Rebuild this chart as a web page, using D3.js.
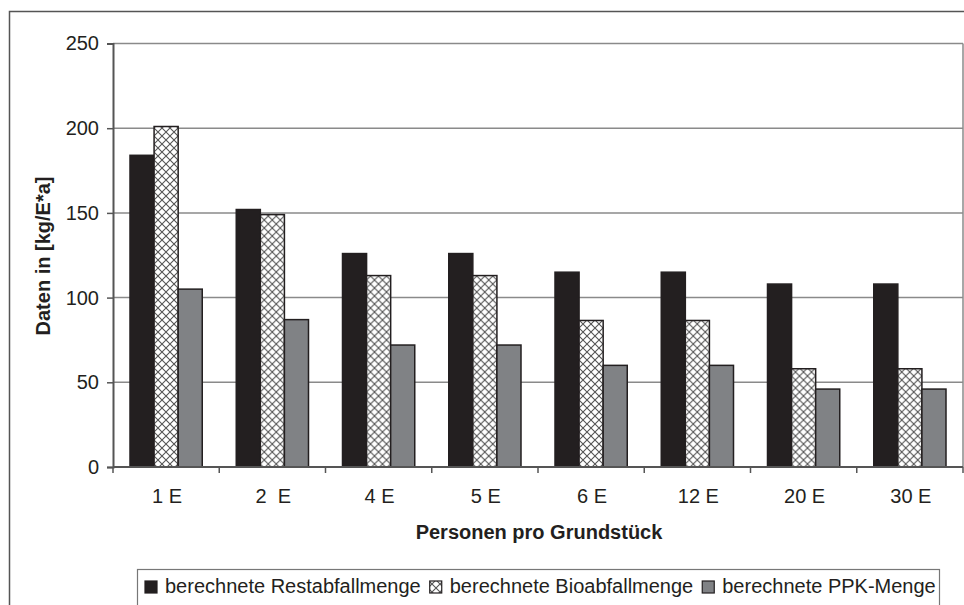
<!DOCTYPE html>
<html>
<head>
<meta charset="utf-8">
<script src="https://cdn.jsdelivr.net/npm/d3@7"></script>
<style>
  body { margin: 0; background: #fff; }
  text { font-family: "Liberation Sans", Arial, sans-serif; fill: #231f20; }
</style>
</head>
<body>
<script>
// Data
const categories = ["1 E", "2  E", "4 E", "5 E", "6 E", "12 E", "20 E", "30 E"];
const seriesNames = ["berechnete Restabfallmenge", "berechnete Bioabfallmenge", "berechnete PPK-Menge"];
const restabfall = [184, 152, 126, 126, 115, 115, 108, 108];
const bioabfall  = [201, 149, 113, 113, 86.5, 86.5, 58, 58];
const ppk        = [105, 87, 72, 72, 60, 60, 46, 46];
const yTicks = [0, 50, 100, 150, 200, 250];

const width = 964, height = 605;
const plotLeft = 113, plotRight = 963, plotTop = 43.5, plotBottom = 467;
const fontSize = "20px";

const svg = d3.select("body").append("svg")
    .attr("width", width)
    .attr("height", height);

// hatch pattern for the Bioabfall bars
const defs = svg.append("defs");
const pat = defs.append("pattern")
    .attr("id", "hatch")
    .attr("patternUnits", "userSpaceOnUse")
    .attr("width", 8)
    .attr("height", 8);
pat.append("rect").attr("width", 8).attr("height", 8).attr("fill", "#fff");
pat.append("path")
    .attr("d", "M0,0 L8,8 M8,0 L0,8")
    .attr("stroke", "#555")
    .attr("stroke-width", 1.1);

const fills = ["#231f20", "url(#hatch)", "#808285"];
const values = [restabfall, bioabfall, ppk];

// outer frame (left + top only visible)
svg.append("path")
    .attr("d", `M9.5,${height} L9.5,11.5 L${width},11.5`)
    .attr("fill", "none")
    .attr("stroke", "#555")
    .attr("stroke-width", 1.5);

const x0 = d3.scaleBand()
    .domain(categories)
    .range([plotLeft, plotRight])
    .paddingInner(0.32)
    .paddingOuter(0.16);

const x1 = d3.scaleBand()
    .domain(d3.range(seriesNames.length))
    .range([0, x0.bandwidth()]);

const y = d3.scaleLinear()
    .domain([0, 250])
    .range([plotBottom, plotTop]);

// gridlines
svg.append("g")
    .selectAll("line")
    .data(yTicks.filter(d => d > 0))
    .enter().append("line")
    .attr("x1", plotLeft).attr("x2", plotRight)
    .attr("y1", d => y(d)).attr("y2", d => y(d))
    .attr("stroke", "#8a8a8a")
    .attr("stroke-width", 1.5);

// right border of plot area
svg.append("line")
    .attr("x1", plotRight).attr("x2", plotRight)
    .attr("y1", plotTop).attr("y2", plotBottom)
    .attr("stroke", "#8a8a8a")
    .attr("stroke-width", 1.5);

// bars
const groups = svg.append("g")
    .selectAll("g")
    .data(categories)
    .enter().append("g")
    .attr("transform", d => `translate(${x0(d)},0)`);

groups.selectAll("rect")
    .data((d, i) => values.map((v, s) => ({ s: s, v: v[i] })))
    .enter().append("rect")
    .attr("x", d => x1(d.s))
    .attr("y", d => y(d.v))
    .attr("width", x1.bandwidth())
    .attr("height", d => y(0) - y(d.v))
    .attr("fill", d => fills[d.s])
    .attr("stroke", "#231f20")
    .attr("stroke-width", 1.5);

// y axis
const yAxis = svg.append("g")
    .attr("transform", `translate(${plotLeft},0)`)
    .call(d3.axisLeft(y).tickValues(yTicks).tickSize(6).tickPadding(8));
yAxis.select(".domain").attr("stroke", "#555").attr("stroke-width", 2);
yAxis.selectAll(".tick line").attr("stroke", "#555").attr("stroke-width", 1.5);
yAxis.selectAll(".tick text")
    .attr("font-size", fontSize)
    .attr("font-family", "Liberation Sans, Arial, sans-serif")
    .attr("fill", "#231f20");

// x axis: ticks at band boundaries
const xAxisG = svg.append("g");
xAxisG.append("line")
    .attr("x1", plotLeft).attr("x2", plotRight)
    .attr("y1", plotBottom).attr("y2", plotBottom)
    .attr("stroke", "#555").attr("stroke-width", 2);
const step = x0.step();
xAxisG.selectAll(".xt")
    .data(d3.range(categories.length + 1))
    .enter().append("line")
    .attr("class", "xt")
    .attr("x1", i => plotLeft + i * step).attr("x2", i => plotLeft + i * step)
    .attr("y1", plotBottom).attr("y2", plotBottom + 6)
    .attr("stroke", "#555").attr("stroke-width", 1.5);
xAxisG.selectAll(".xl")
    .data(categories)
    .enter().append("text")
    .attr("class", "xl")
    .attr("x", d => x0(d) + x0.bandwidth() / 2 + 1)
    .attr("y", 503)
    .attr("text-anchor", "middle")
    .attr("font-size", fontSize)
    .style("white-space", "pre")
    .text(d => d);

// axis titles
svg.append("text")
    .attr("x", 539)
    .attr("y", 539)
    .attr("text-anchor", "middle")
    .attr("font-size", fontSize)
    .attr("font-weight", "bold")
    .text("Personen pro Grundstück");

svg.append("text")
    .attr("transform", "translate(50,256) rotate(-90)")
    .attr("text-anchor", "middle")
    .attr("font-size", fontSize)
    .attr("font-weight", "bold")
    .text("Daten in [kg/E*a]");

// legend
svg.append("rect")
    .attr("x", 137.5).attr("y", 569.5)
    .attr("width", 802).attr("height", 60)
    .attr("fill", "#fff")
    .attr("stroke", "#777")
    .attr("stroke-width", 1.2);

let lx = 145;
seriesNames.forEach((name, s) => {
    svg.append("rect")
        .attr("x", lx).attr("y", 581)
        .attr("width", 12).attr("height", 12)
        .attr("fill", fills[s])
        .attr("stroke", "#231f20")
        .attr("stroke-width", 1.2);
    const t = svg.append("text")
        .attr("x", lx + 20)
        .attr("y", 593)
        .attr("font-size", fontSize)
        .text(name);
    lx += 20 + t.node().getComputedTextLength() + 9;
});
</script>
</body>
</html>
